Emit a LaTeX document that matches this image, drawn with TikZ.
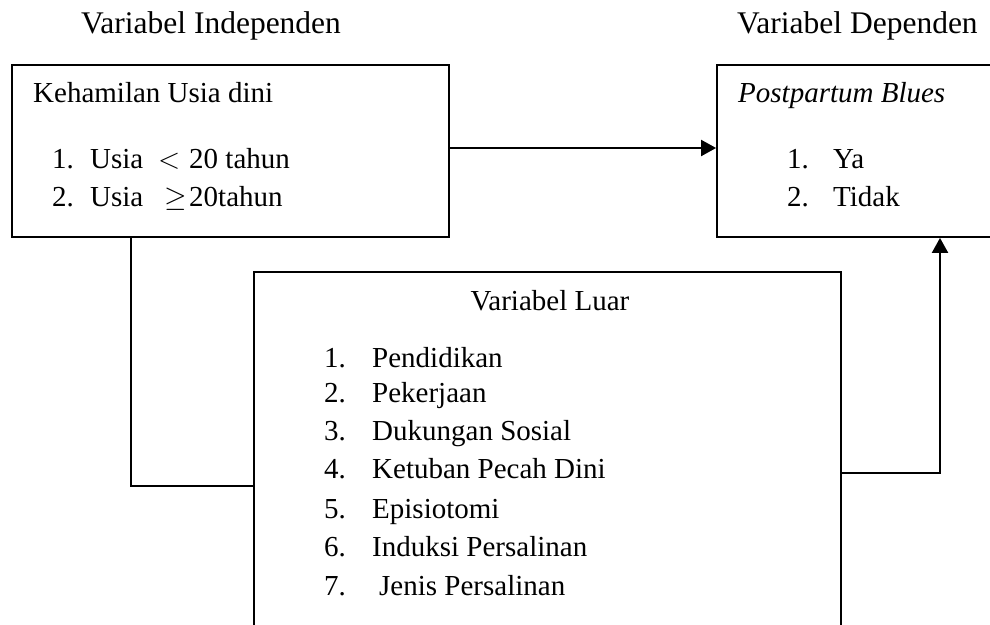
\RequirePackage{fix-cm}
\documentclass[tikz,border=0pt]{standalone}
\usepackage{fontspec}
\setmainfont{Liberation Serif}
\usetikzlibrary{arrows.meta}
\begin{document}
\begin{tikzpicture}[x=1pt,y=-1pt,
  box/.style={draw=black,line width=1.8pt,rectangle,inner sep=0pt},
  conn/.style={draw=black,line width=2pt},
  arr/.style={conn,-{Triangle[length=15pt,width=16pt]}},
  txt/.style={inner sep=0pt,anchor=base west,font=\fontsize{29}{34}\selectfont},
  head/.style={inner sep=0pt,anchor=base west,font=\fontsize{31.5}{36}\selectfont}]
\useasboundingbox (0,0) rectangle (990,624);
\clip (0,0) rectangle (990,624);
\fill[white] (0,0) rectangle (990,624);

% headings
\node[head] (hInd) at (81,33) {Variabel Independen};
\node[head] (hDep) at (737,33) {Variabel Dependen};

% boxes
\node[box,minimum width=437pt,minimum height=172pt] (indep) at (230.5,151) {};
\node[box,minimum width=383pt,minimum height=172pt] (dep) at (908.5,151) {};
\node[box,minimum width=587pt,minimum height=428pt] (luar) at (547.5,486) {};

% independent box text
\node[txt] (t1) at (33,102) {Kehamilan Usia dini};
\node[txt] (t1a) at (52,168) {1.};
\node[txt] (t1b) at (90,168) {Usia};
\node[txt] (t1c) at (158,168) {$<$};
\node[txt] (t1d) at (189,168) {20 tahun};
\node[txt] (t2a) at (52,206) {2.};
\node[txt] (t2b) at (90,206) {Usia};
\node[txt] (t2c) at (164,206) {$\geq$};
\node[txt] (t2d) at (189,206) {20tahun};

% dependent box text
\node[txt,font=\fontsize{29}{34}\selectfont\itshape] (d1) at (738,102) {Postpartum Blues};
\node[txt] (d1a) at (787,168) {1.};
\node[txt] (d1b) at (833,168) {Ya};
\node[txt] (d2a) at (787,206) {2.};
\node[txt] (d2b) at (833,206) {Tidak};

% luar box text
\node[txt,anchor=base] (l0) at (550,310) {Variabel Luar};
\node[txt] (n1) at (324,367) {1.};
\node[txt] (i1) at (372,367) {Pendidikan};
\node[txt] (n2) at (324,402) {2.};
\node[txt] (i2) at (372,402) {Pekerjaan};
\node[txt] (n3) at (324,440) {3.};
\node[txt] (i3) at (372,440) {Dukungan Sosial};
\node[txt] (n4) at (324,478) {4.};
\node[txt] (i4) at (372,478) {Ketuban Pecah Dini};
\node[txt] (n5) at (324,518) {5.};
\node[txt] (i5) at (372,518) {Episiotomi};
\node[txt] (n6) at (324,556) {6.};
\node[txt] (i6) at (372,556) {Induksi Persalinan};
\node[txt] (n7) at (324,595) {7.};
\node[txt] (i7) at (379,595) {Jenis Persalinan};

% connectors
\draw[arr] ([yshift=3pt]indep.east) -- ([yshift=3pt]dep.west);
\draw[conn] ([xshift=120pt]indep.south west) |- (luar.west);
\draw[arr] ([yshift=13pt]luar.east) -| ([xshift=31.5pt]dep.south);
\end{tikzpicture}
\end{document}
